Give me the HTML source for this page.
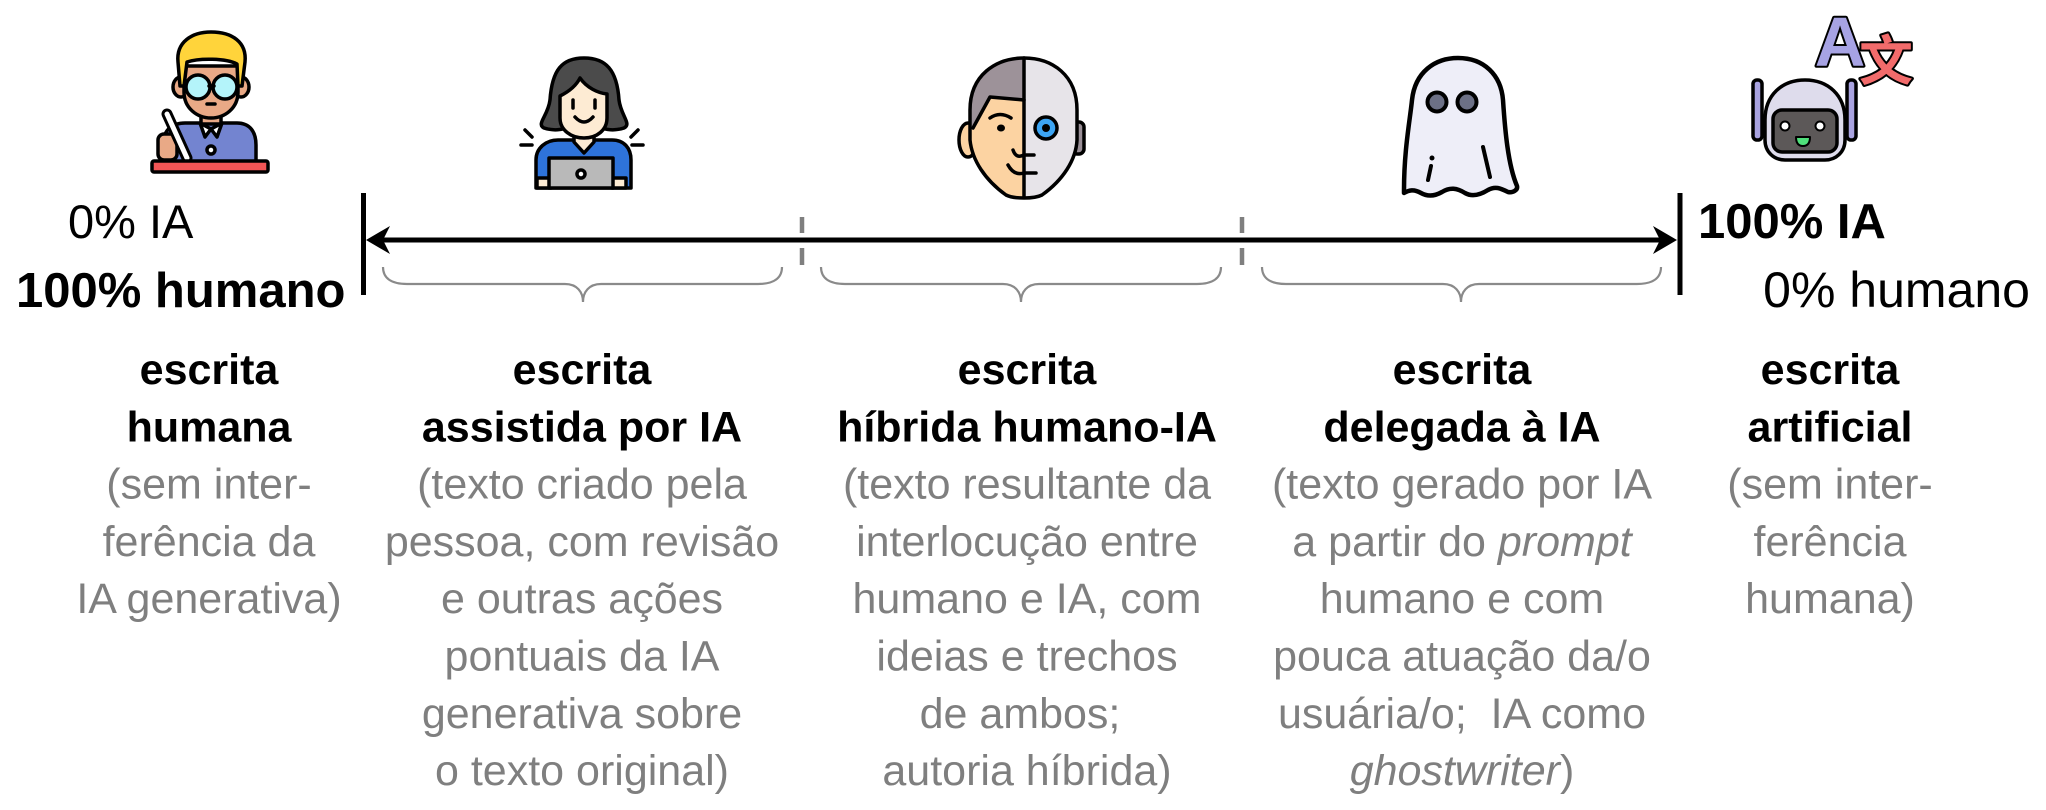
<!DOCTYPE html>
<html>
<head>
<meta charset="utf-8">
<style>
  html, body { margin: 0; padding: 0; background: #ffffff; }
  svg { display: block; }
  .t { font-family: "Liberation Sans", "Noto Sans CJK SC", sans-serif; }
</style>
</head>
<body>
<svg width="2046" height="810" viewBox="0 0 2046 810" xmlns="http://www.w3.org/2000/svg">
  <rect x="0" y="0" width="2046" height="810" fill="#ffffff"/>

  <!-- ================= ICONS ================= -->
  <!-- Man writing -->
  <g stroke="#000" stroke-width="3.5" stroke-linejoin="round" stroke-linecap="round">
    <ellipse cx="181" cy="87" rx="8" ry="10" fill="#E9A986"/>
    <ellipse cx="241" cy="87" rx="8" ry="10" fill="#E9A986"/>
    <path d="M163,162 L163,145 C163,130 172,123 185,123 L237,123 C250,123 256,132 256,145 L256,162 Z" fill="#7384D0"/>
    <path d="M201,110 L201,124 L221,124 L221,110 Z" fill="#E9A986"/>
    <path d="M184,66 L184,92 C184,108 197,118 211,118 C225,118 238,108 238,92 L238,66 Z" fill="#E9A986"/>
    <path d="M180,86 L178,62 C176,42 192,32 211,32 C232,32 247,42 245,62 L242,86 L238,86 L237,64 C226,58 199,58 187,62 L184,86 Z" fill="#FFD43B"/>
    <circle cx="198" cy="87" r="12" fill="#B4F4FA"/>
    <circle cx="225" cy="87" r="12" fill="#B4F4FA"/>
    <line x1="209" y1="86" x2="214" y2="86"/>
    <line x1="207" y1="104" x2="215" y2="104"/>
    <path d="M200,123 L211,129 L205,137 Z" fill="#fff"/>
    <path d="M222,123 L211,129 L217,137 Z" fill="#fff"/>
    <circle cx="211" cy="150" r="4" fill="#fff"/>
    <rect x="158" y="134" width="19" height="26" rx="6" fill="#E9A986"/>
  </g>
  <line x1="167" y1="114" x2="187" y2="158" stroke="#000" stroke-width="11" stroke-linecap="round"/>
  <line x1="167" y1="114" x2="187" y2="158" stroke="#fff" stroke-width="5" stroke-linecap="round"/>
  <rect x="152" y="161" width="116" height="11" rx="2" fill="#F35656" stroke="#000" stroke-width="3.5"/>

  <!-- Woman with laptop -->
  <g stroke="#000" stroke-width="3.5" stroke-linejoin="round" stroke-linecap="round">
    <path d="M544,128 C536,124 548,116 550,100 C552,70 562,58 584,58 C606,58 617,70 619,100 C621,116 632,124 624,128 C615,131 605,130 600,127 L568,127 C563,130 553,131 544,128 Z" fill="#4B4B4B"/>
    <path d="M536,188 L536,160 C536,148 546,140 558,140 L612,140 C624,140 631,148 631,160 L631,188 Z" fill="#2E73DA"/>
    <path d="M574,132 L574,142 L584,153 L594,142 L594,132 Z" fill="#FDEBD3"/>
    <path d="M560,96 C568,92 576,86 580,78 C587,88 598,93 607,94 L607,118 C607,130 597,138 584,138 C571,138 560,130 560,118 Z" fill="#FDEBD3"/>
    <line x1="573" y1="100" x2="573" y2="108"/>
    <line x1="595" y1="100" x2="595" y2="108"/>
    <path d="M575,117 Q584,127 593,117" fill="none"/>
    <rect x="537" y="178" width="14" height="10" fill="#FDEBD3"/>
    <rect x="612" y="178" width="14" height="10" fill="#FDEBD3"/>
    <rect x="549" y="158" width="64" height="30" fill="#B9B9B9"/>
    <circle cx="581" cy="174" r="4" fill="#fff"/>
    <line x1="525" y1="130" x2="532" y2="137"/>
    <line x1="521" y1="145" x2="532" y2="145"/>
    <line x1="638" y1="130" x2="631" y2="137"/>
    <line x1="632" y1="145" x2="643" y2="145"/>
  </g>

  <!-- Hybrid human / robot face -->
  <defs>
    <clipPath id="hh">
      <path d="M1024,58 C996,58 970,75 970,110 L970,140 C972,160 985,180 1006,195 C1014,199 1034,199 1042,195 C1063,180 1076,160 1077,140 L1077,110 C1077,75 1052,58 1024,58 Z"/>
    </clipPath>
  </defs>
  <ellipse cx="968" cy="140" rx="9" ry="17" fill="#FCD3A2" stroke="#000" stroke-width="3.5"/>
  <rect x="1072" y="122" width="12" height="32" rx="5" fill="#9A8F97" stroke="#000" stroke-width="3.5"/>
  <g clip-path="url(#hh)">
    <rect x="960" y="50" width="64" height="160" fill="#FCD3A2"/>
    <rect x="1024" y="50" width="60" height="160" fill="#E7E4E9"/>
    <path d="M960,50 L1024,50 L1024,100 L990,97 L973,128 L960,128 Z" fill="#9D9299"/>
  </g>
  <g stroke="#000" stroke-width="3.5" stroke-linecap="round" stroke-linejoin="round" fill="none">
    <path d="M1024,58 C996,58 970,75 970,110 L970,140 C972,160 985,180 1006,195 C1014,199 1034,199 1042,195 C1063,180 1076,160 1077,140 L1077,110 C1077,75 1052,58 1024,58 Z"/>
    <path d="M973,128 L990,97 L1024,100"/>
    <line x1="1024" y1="58" x2="1024" y2="197"/>
    <path d="M990,118 Q1000,111 1011,118"/>
    <path d="M1013,150 Q1016,159 1024,155 L1034,155"/>
    <path d="M1008,165 Q1014,176 1024,173 L1036,173"/>
  </g>
  <ellipse cx="1001" cy="128" rx="4" ry="3.5" fill="#000"/>
  <circle cx="1046" cy="128" r="11" fill="#3DA5F4" stroke="#000" stroke-width="3.5"/>
  <circle cx="1046" cy="128" r="4" fill="#000"/>

  <!-- Ghost -->
  <path d="M1404,190 C1404,150 1410,120 1412,100 C1415,72 1435,58 1458,58 C1484,58 1501,75 1503,100 C1505,130 1508,165 1517,186 C1518,190 1513,193 1508,192 C1500,188 1495,186 1488,190 C1480,195 1472,197 1465,193 C1457,188 1450,187 1442,192 C1435,196 1428,197 1421,193 C1414,189 1409,190 1404,193 Z" fill="#EEEEF8" stroke="#000" stroke-width="4.5" stroke-linejoin="round"/>
  <circle cx="1437" cy="102" r="9.5" fill="#6C7086" stroke="#000" stroke-width="4"/>
  <circle cx="1467" cy="102" r="9.5" fill="#6C7086" stroke="#000" stroke-width="4"/>
  <circle cx="1432" cy="158" r="2.5" fill="#000"/>
  <line x1="1431" y1="166" x2="1428" y2="180" stroke="#000" stroke-width="4" stroke-linecap="round"/>
  <line x1="1483" y1="147" x2="1490" y2="177" stroke="#000" stroke-width="4" stroke-linecap="round"/>

  <!-- Robot with translation -->
  <g stroke="#000" stroke-width="3.5" stroke-linejoin="round">
    <rect x="1753" y="80" width="9" height="60" rx="4" fill="#A9A3E0"/>
    <rect x="1847" y="80" width="9" height="60" rx="4" fill="#A9A3E0"/>
    <path d="M1765,140 L1765,120 C1765,95 1782,80 1805,80 C1828,80 1845,95 1845,120 L1845,140 C1845,152 1836,160 1825,160 L1785,160 C1774,160 1765,152 1765,140 Z" fill="#DEDCEC"/>
    <rect x="1773" y="110" width="64" height="42" rx="9" fill="#5C5858"/>
    <circle cx="1785" cy="126" r="4.5" fill="#fff" stroke-width="2"/>
    <circle cx="1820" cy="126" r="4.5" fill="#fff" stroke-width="2"/>
    <path d="M1796,137 L1810,137 Q1810,146 1803,146 Q1796,146 1796,137 Z" fill="#4FE07B" stroke-width="2"/>
  </g>
  <text class="t" x="1840" y="66" text-anchor="middle" font-size="70" font-weight="bold" fill="#A7A3E4" stroke="#000" stroke-width="4" paint-order="stroke" stroke-linejoin="round">A</text>
  <text x="1886" y="80" text-anchor="middle" font-family="'Noto Sans CJK SC', 'WenQuanYi Zen Hei', sans-serif" font-size="54" font-weight="bold" fill="#F26B6B" stroke="#000" stroke-width="4" paint-order="stroke" stroke-linejoin="round">文</text>

  <!-- ================= AXIS ================= -->
  <line x1="363.5" y1="193" x2="363.5" y2="295" stroke="#000" stroke-width="5"/>
  <line x1="1680" y1="193" x2="1680" y2="295" stroke="#000" stroke-width="5"/>
  <line x1="378" y1="240" x2="1666" y2="240" stroke="#000" stroke-width="5"/>
  <polygon points="366,240 390,226 383,240 390,254" fill="#000"/>
  <polygon points="1677,240 1653,226 1660,240 1653,254" fill="#000"/>

  <!-- gray ticks -->
  <g stroke="#7F7F7F" stroke-width="4.5">
    <line x1="802" y1="217" x2="802" y2="233"/>
    <line x1="802" y1="248" x2="802" y2="265"/>
    <line x1="1242" y1="217" x2="1242" y2="233"/>
    <line x1="1242" y1="248" x2="1242" y2="265"/>
  </g>

  <!-- braces -->
  <g stroke="#8A8A8A" stroke-width="2.2" fill="none">
    <path d="M383,267 C383,278 391,284 407,284 L565,284 C577,284 583,292 583,302 C583,292 589,284 601,284 L758,284 C774,284 782,278 782,267"/>
    <path d="M821,267 C821,278 829,284 845,284 L1003,284 C1015,284 1021,292 1021,302 C1021,292 1027,284 1039,284 L1197,284 C1213,284 1221,278 1221,267"/>
    <path d="M1262,267 C1262,278 1270,284 1286,284 L1443,284 C1455,284 1461,292 1461,302 C1461,292 1467,284 1479,284 L1637,284 C1653,284 1661,278 1661,267"/>
  </g>

  <!-- ================= END LABELS ================= -->
  <text class="t" x="68" y="238" font-size="47" fill="#000">0% IA</text>
  <text class="t" x="16" y="307" font-size="49" font-weight="bold" fill="#000">100% humano</text>
  <text class="t" x="1698" y="238" font-size="49" font-weight="bold" fill="#000">100% IA</text>
  <text class="t" x="2030" y="307" font-size="50" text-anchor="end" fill="#000">0% humano</text>

  <!-- ================= COLUMNS ================= -->
  <g class="t" font-size="43" text-anchor="middle">
    <!-- col 1 -->
    <text x="209" y="384" font-weight="bold" fill="#000">escrita</text>
    <text x="209" y="441.3" font-weight="bold" fill="#000">humana</text>
    <text x="209" y="498.6" fill="#7F7F7F">(sem inter-</text>
    <text x="209" y="555.9" fill="#7F7F7F">ferência da</text>
    <text x="209" y="613.2" fill="#7F7F7F">IA generativa)</text>

    <!-- col 2 -->
    <text x="582" y="384" font-weight="bold" fill="#000">escrita</text>
    <text x="582" y="441.3" font-weight="bold" fill="#000">assistida por IA</text>
    <text x="582" y="498.6" fill="#7F7F7F">(texto criado pela</text>
    <text x="582" y="555.9" fill="#7F7F7F">pessoa, com revisão</text>
    <text x="582" y="613.2" fill="#7F7F7F">e outras ações</text>
    <text x="582" y="670.5" fill="#7F7F7F">pontuais da IA</text>
    <text x="582" y="727.8" fill="#7F7F7F">generativa sobre</text>
    <text x="582" y="785.1" fill="#7F7F7F">o texto original)</text>

    <!-- col 3 -->
    <text x="1027" y="384" font-weight="bold" fill="#000">escrita</text>
    <text x="1027" y="441.3" font-weight="bold" fill="#000">híbrida humano-IA</text>
    <text x="1027" y="498.6" fill="#7F7F7F">(texto resultante da</text>
    <text x="1027" y="555.9" fill="#7F7F7F">interlocução entre</text>
    <text x="1027" y="613.2" fill="#7F7F7F">humano e IA, com</text>
    <text x="1027" y="670.5" fill="#7F7F7F">ideias e trechos</text>
    <text x="1020" y="727.8" fill="#7F7F7F">de ambos;</text>
    <text x="1027" y="785.1" fill="#7F7F7F">autoria híbrida)</text>

    <!-- col 4 -->
    <text x="1462" y="384" font-weight="bold" fill="#000">escrita</text>
    <text x="1462" y="441.3" font-weight="bold" fill="#000">delegada à IA</text>
    <text x="1462" y="498.6" fill="#7F7F7F">(texto gerado por IA</text>
    <text x="1462" y="555.9" fill="#7F7F7F">a partir do <tspan font-style="italic">prompt</tspan></text>
    <text x="1462" y="613.2" fill="#7F7F7F">humano e com</text>
    <text x="1462" y="670.5" fill="#7F7F7F">pouca atuação da/o</text>
    <text x="1462" y="727.8" fill="#7F7F7F">usuária/o;&#160; IA como</text>
    <text x="1462" y="785.1" fill="#7F7F7F"><tspan font-style="italic">ghostwriter</tspan>)</text>

    <!-- col 5 -->
    <text x="1830" y="384" font-weight="bold" fill="#000">escrita</text>
    <text x="1830" y="441.3" font-weight="bold" fill="#000">artificial</text>
    <text x="1830" y="498.6" fill="#7F7F7F">(sem inter-</text>
    <text x="1830" y="555.9" fill="#7F7F7F">ferência</text>
    <text x="1830" y="613.2" fill="#7F7F7F">humana)</text>
  </g>
</svg>
</body>
</html>
